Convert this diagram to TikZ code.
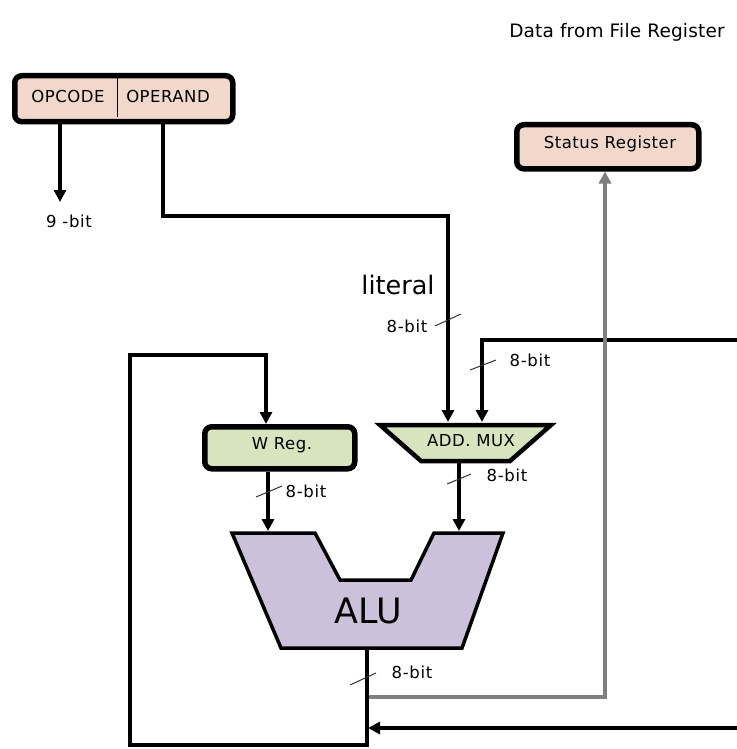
\documentclass[tikz,border=0pt]{standalone}
\usepackage{fontspec}
\setmainfont{DejaVu Sans}
\usetikzlibrary{arrows.meta}
\definecolor{peach}{HTML}{F2D8CA}
\definecolor{wgreen}{HTML}{D8E4BD}
\definecolor{alupurple}{HTML}{CCC1DA}
\definecolor{busgray}{HTML}{7F7F7F}
\tikzset{
  regbox/.style={draw=black, line width=5.5pt, rounded corners=7pt, inner sep=0pt},
  bus/.style={line width=3.2pt, -{Triangle[length=12pt,width=12pt]}},
  tick/.style={line width=1pt, black!80},
  lbl/.style={font=\fontsize{16.5}{18}\selectfont\addfontfeature{LetterSpace=4}, inner sep=1pt},
  boxtxt/.style={font=\fontsize{16.5}{18}\selectfont\addfontfeature{LetterSpace=3}, inner sep=1pt},
}
\begin{document}
\begin{tikzpicture}[x=1pt,y=-1pt]
\useasboundingbox (0,0) rectangle (736,749);
\fill[white] (0,0) rectangle (736,749);

% instruction word
\node[regbox, fill=peach, minimum width=218pt, minimum height=46pt, anchor=north west] (instr) at (12,73) {};
\draw[line width=1pt] (117,75) -- (117,117);
\node[boxtxt] (opcode) at (68,96) {OPCODE};
\node[boxtxt] (operand) at (168,96) {OPERAND};
\coordinate (opc) at (60,121);
\coordinate (opd) at (163,121);

% status register
\node[regbox, fill=peach, minimum width=182pt, minimum height=44pt, anchor=north west] (status) at (514,122) {};
\node[boxtxt] (statustxt) at (610,144) {Status Register};

\node[font=\fontsize{18.5}{22}\selectfont\addfontfeature{LetterSpace=1}] (dfr) at (617,32) {Data from File Register};

% W register
\node[regbox, fill=wgreen, minimum width=150pt, minimum height=42pt, anchor=north west] (wreg) at (202,424) {};
\node[boxtxt] (wregtxt) at (282,445) {W Reg.};

% address multiplexer
\draw[line width=4.5pt, fill=wgreen, line join=miter]
  (380,425) -- (551,425) -- (510,461) -- (421,461) -- cycle;
\node[boxtxt] (mux) at (471,441) {ADD. MUX};
\coordinate (muxinL) at (448,422);
\coordinate (muxinR) at (482,422);
\coordinate (muxout) at (459,463);

% ALU
\draw[line width=3.5pt, fill=alupurple, line join=miter]
  (232,533) -- (315,533) -- (340,580) -- (411,580) -- (434,533) -- (503,533)
  -- (462,648) -- (281,648) -- cycle;
\node[font=\fontsize{35}{38}\selectfont] (alu) at (368,611) {ALU};
\coordinate (aluinL) at (268,531);
\coordinate (aluinR) at (459,531);
\coordinate (aluout) at (367,650);

% opcode bus
\coordinate (opcend) at (60,202);
\draw[bus] (opc) -- (opcend);
\node[lbl] (nine) at (69,221) {9 -bit};

% literal bus
\draw[bus] (opd) -- (163,216) -- (448,216) -- (muxinL);
\node[font=\fontsize{25.5}{28}\selectfont] (literal) at (398,285) {literal};
\draw[tick] (435,326) -- (461,314);
\node[lbl] (b1) at (407,326) {8-bit};

% data from the file register
\coordinate (fileR) at (737,340);
\draw[bus] (fileR) -- (482,340) -- (muxinR);
\draw[tick] (470,370) -- (496,360);
\node[lbl] (b2) at (530,360) {8-bit};

% W to ALU
\draw[bus] (wreg.south -| aluinL) -- (aluinL);
\draw[tick] (256,497) -- (282,486);
\node[lbl] (b3) at (306,491) {8-bit};

% mux to ALU
\draw[bus] (muxout) -- (aluinR);
\draw[tick] (447,484) -- (471,474);
\node[lbl] (b4) at (507,475) {8-bit};

% ALU result to status register
\draw[line width=3.2pt, busgray, -{Triangle[length=12pt,width=12pt]}]
  (367,697) -- (605,697) -- (status.south -| 605,0);

% ALU result fed back to W
\draw[bus] (aluout) -- (367,745) -- (130,745) -- (130,355) -- (266,355) -- (wreg.north -| 266,0);
\draw[tick] (350,685) -- (376,673);
\node[lbl] (b5) at (412,672) {8-bit};

% external input to the ALU result line
\coordinate (extR) at (737,728);
\draw[bus] (extR) -- (368,728);
\end{tikzpicture}
\end{document}
